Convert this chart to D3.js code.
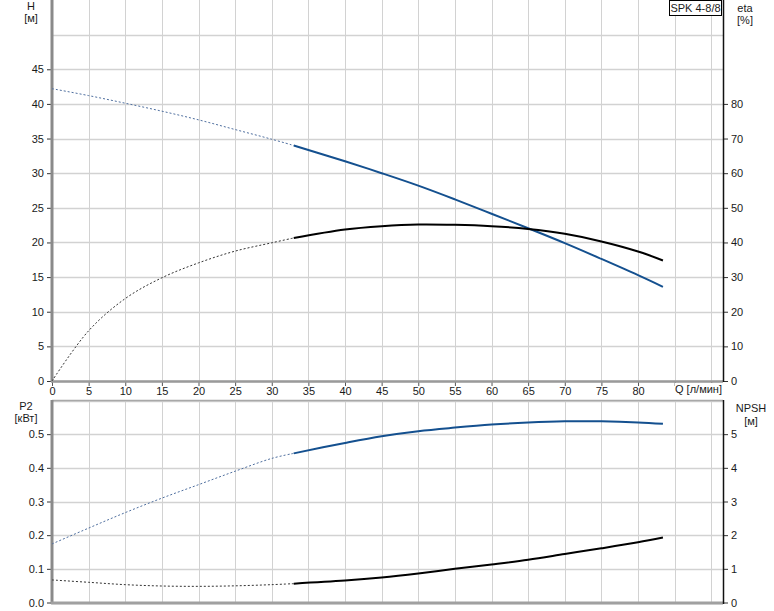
<!DOCTYPE html>
<html><head><meta charset="utf-8">
<script src="https://cdnjs.cloudflare.com/ajax/libs/d3/7.8.5/d3.min.js"></script>
<style>
body{margin:0;background:#fff;}
svg{display:block;font-family:"Liberation Sans",Arial,sans-serif;}
</style></head>
<body>
<svg id="c" width="774" height="611"></svg>
<script>
// ---- data ----
const title = "SPK 4-8/8";
const qTicks = [0,5,10,15,20,25,30,35,40,45,50,55,60,65,70,75,80];
const qGrid = [0,5,10,15,20,25,30,35,40,45,50,55,60,65,70,75,80,85,90];
const hTicks = [0,5,10,15,20,25,30,35,40,45];
const hGrid = [0,5,10,15,20,25,30,35,40,45,50];
const etaTicks = [0,10,20,30,40,50,60,70,80];
const p2Ticks = [0,0.1,0.2,0.3,0.4,0.5];
const p2Grid = [0,0.1,0.2,0.3,0.4,0.5,0.6];
const npshTicks = [0,1,2,3,4,5];

// dotted (outside operating range)
const qLow    = [0, 5, 10, 15, 20, 25, 30, 33];
const hLow    = [42.2, 41.2, 40.1, 38.95, 37.7, 36.3, 34.9, 34.0];
const etaLow  = [0, 14.5, 23.8, 29.8, 34.1, 37.5, 39.9, 41.3];
const p2Low   = [0.174, 0.221, 0.267, 0.31, 0.35, 0.39, 0.428, 0.443];
const npshLow = [0.67, 0.60, 0.53, 0.49, 0.48, 0.495, 0.53, 0.56];

// solid (operating range)
const qHigh    = [33, 40, 45, 50, 55, 60, 65, 70, 75, 80, 83.4];
const hHigh    = [34.0, 31.72, 30.0, 28.2, 26.22, 24.15, 22.05, 19.9, 17.62, 15.28, 13.6];
const etaHigh  = [41.3, 43.75, 44.7, 45.2, 45.1, 44.7, 43.9, 42.5, 40.3, 37.4, 34.8];
const p2High   = [0.443, 0.474, 0.494, 0.509, 0.5195, 0.5285, 0.5345, 0.538, 0.538, 0.535, 0.531];
const npshHigh = [0.56, 0.65, 0.74, 0.86, 1.0, 1.13, 1.27, 1.44, 1.61, 1.79, 1.93];

// ---- drawing ----
const svg = d3.select("#c");
const L = 52, R = 723;
const x = d3.scaleLinear().domain([0, 91.6]).range([L, R]);
const yH = d3.scaleLinear().domain([0, 55]).range([381, 0]);
const yEta = d3.scaleLinear().domain([0, 110]).range([381, 0]);
const yP = d3.scaleLinear().domain([0, 0.6]).range([602.5, 400.5]);
const yN = d3.scaleLinear().domain([0, 6]).range([602.5, 400.5]);

const BLUE = "#14508f", BLUE_D = "#4f6f9f", GRID = "#d2d2d2", TXT = "#1a1a1a";

function panel(yS, yGrid, top, bottom){
  const g = svg.append("g");
  g.selectAll("line.v").data(qGrid).join("line")
    .attr("x1", d=>Math.round(x(d))+0.5).attr("x2", d=>Math.round(x(d))+0.5)
    .attr("y1", top).attr("y2", bottom).attr("stroke", GRID).attr("stroke-width",1);
  g.selectAll("line.h").data(yGrid).join("line")
    .attr("y1", d=>Math.round(yS(d))+0.5).attr("y2", d=>Math.round(yS(d))+0.5)
    .attr("x1", L).attr("x2", R).attr("stroke", GRID).attr("stroke-width",1.5);
}
panel(yH, hGrid, 0, 381);
panel(yP, p2Grid, 400, 602);

function styleAxis(g, col){
  g.selectAll("text").attr("fill", TXT).style("font-size","11px").style("font-family","Liberation Sans, Arial, sans-serif");
  g.selectAll(".tick line").attr("stroke", col);
  g.select(".domain").remove();
}
let a = svg.append("g").attr("transform",`translate(${L},0)`)
  .call(d3.axisLeft(yH).tickValues(hTicks).tickSize(5).tickPadding(3).tickFormat(d3.format("d")));
styleAxis(a, "#333");
a = svg.append("g").attr("transform",`translate(${R},0)`)
  .call(d3.axisRight(yEta).tickValues(etaTicks).tickSize(5).tickPadding(3).tickFormat(d3.format("d")));
styleAxis(a, "#333");
a = svg.append("g").attr("transform",`translate(0,381)`)
  .call(d3.axisBottom(x).tickValues(qGrid).tickSize(5).tickPadding(1)
    .tickFormat(d=> qTicks.includes(d) ? d3.format("d")(d) : ""));
styleAxis(a, "#555");
a = svg.append("g").attr("transform",`translate(${L},0)`)
  .call(d3.axisLeft(yP).tickValues(p2Ticks).tickSize(5).tickPadding(3).tickFormat(d3.format(".1f")));
styleAxis(a, "#333");
a = svg.append("g").attr("transform",`translate(${R},0)`)
  .call(d3.axisRight(yN).tickValues(npshTicks).tickSize(5).tickPadding(3).tickFormat(d3.format("d")));
styleAxis(a, "#333");

// axis lines
svg.append("line").attr("x1",L).attr("x2",L).attr("y1",0).attr("y2",382).attr("stroke","#8a8a8a").attr("stroke-width",3);
svg.append("line").attr("x1",L-1).attr("x2",R).attr("y1",381.5).attr("y2",381.5).attr("stroke","#9a9a9a").attr("stroke-width",2.5);
svg.append("line").attr("x1",R+0.5).attr("x2",R+0.5).attr("y1",0).attr("y2",382).attr("stroke","#111").attr("stroke-width",1.5);
svg.append("line").attr("x1",L).attr("x2",R).attr("y1",400.5).attr("y2",400.5).attr("stroke","#a8a8a8").attr("stroke-width",1.5);
svg.append("line").attr("x1",L).attr("x2",L).attr("y1",400).attr("y2",604).attr("stroke","#8a8a8a").attr("stroke-width",3);
svg.append("line").attr("x1",L-1).attr("x2",R).attr("y1",603).attr("y2",603).attr("stroke","#a0a0a0").attr("stroke-width",3);
svg.append("line").attr("x1",R+0.5).attr("x2",R+0.5).attr("y1",400).attr("y2",604).attr("stroke","#111").attr("stroke-width",1.5);

// curves
function curve(qs, vs, yS, col, w, dash){
  const line = d3.line().x(d=>x(d[0])).y(d=>yS(d[1])).curve(d3.curveCatmullRom.alpha(0.5));
  svg.append("path").datum(qs.map((q,i)=>[q, vs[i]]))
    .attr("d", line).attr("fill","none").attr("stroke", col).attr("stroke-width", w)
    .attr("stroke-dasharray", dash || null);
}
curve(qLow, hLow, yH, BLUE_D, 1, "2,2");
curve(qLow, etaLow, yEta, "#333", 1, "2,2");
curve(qHigh, hHigh, yH, BLUE, 2);
curve(qHigh, etaHigh, yEta, "#000", 2);
curve(qLow, p2Low, yP, BLUE_D, 1, "2,2");
curve(qLow, npshLow, yN, "#333", 1, "2,2");
curve(qHigh, p2High, yP, BLUE, 2);
curve(qHigh, npshHigh, yN, "#000", 2);

// labels
function txt(t, xx, yy, anchor){
  svg.append("text").text(t).attr("x",xx).attr("y",yy).attr("text-anchor",anchor||"middle")
    .attr("fill",TXT).style("font-size","11px");
}
txt("H", 31, 10); txt("[м]", 31, 22);
txt("eta", 745, 12); txt("[%]", 745, 24);
txt("P2", 26, 410); txt("[кВт]", 26, 422);
txt("NPSH", 751, 412); txt("[м]", 751, 425);
svg.append("rect").attr("x",675).attr("y",383).attr("width",46).attr("height",12).attr("fill","#fff");
txt("Q [л/мин]", 698.5, 393);
svg.append("rect").attr("x",669.5).attr("y",0.5).attr("width",52).attr("height",15).attr("fill","#fff").attr("stroke","#000").attr("stroke-width",1);
txt(title, 695.5, 12);
</script>
</body></html>
